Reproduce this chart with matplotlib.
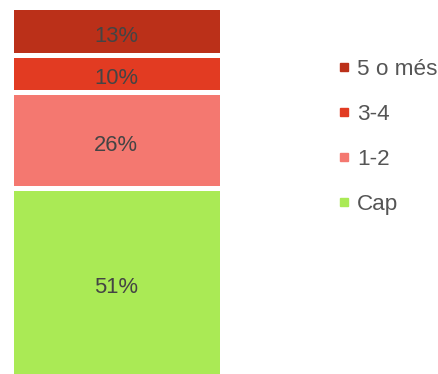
import matplotlib
matplotlib.use("Agg")
import matplotlib.pyplot as plt
from matplotlib.lines import Line2D

categories = ["Cap", "1-2", "3-4", "5 o més"]
values = [51, 26, 10, 13]
colors = ["#AAEA55", "#F47870", "#E23B22", "#BB3019"]
labels = [f"{v}%" for v in values]

plt.rcParams["font.family"] = ["Liberation Sans", "DejaVu Sans"]

W, H = 438, 374
dpi = 100
fig = plt.figure(figsize=(W / dpi, H / dpi), dpi=dpi)

edge_px = 5.0
edge_pt = edge_px * 72 / dpi
# axes box in pixels (bar edges straddle the box border)
x0, x1 = 10.5, 222.0
y_top, y_bot = 7.0, 376.5
ax = fig.add_axes([x0 / W, (H - y_bot) / H, (x1 - x0) / W, (y_bot - y_top) / H])

bottom = 0
for cat, v, c, lab in zip(categories, values, colors, labels):
    ax.bar(0, v, width=1.0, bottom=bottom, color=c, edgecolor="white",
           linewidth=edge_pt, label=cat, clip_on=False)
    ax.annotate(lab, (0, bottom + v / 2), xytext=(0, -7.9),
                textcoords="offset points", ha="center", va="baseline",
                fontsize=15.8, color="#444444")
    bottom += v

ax.set_xlim(-0.5, 0.5)
ax.set_ylim(0, sum(values))
ax.axis("off")

handles = [Line2D([], [], marker="s", linestyle="none", markersize=5.8,
                  markerfacecolor=c, markeredgecolor=c) for c in colors]
leg = fig.legend(handles[::-1], categories[::-1], loc="upper left",
                 bbox_to_anchor=(338.4 / W, 1 - 59 / H), frameon=False,
                 fontsize=16.2, labelcolor="#555555", handlelength=0.5,
                 handletextpad=0.33, labelspacing=1.07, borderpad=0,
                 borderaxespad=0)

fig.savefig("out.png", dpi=dpi)
